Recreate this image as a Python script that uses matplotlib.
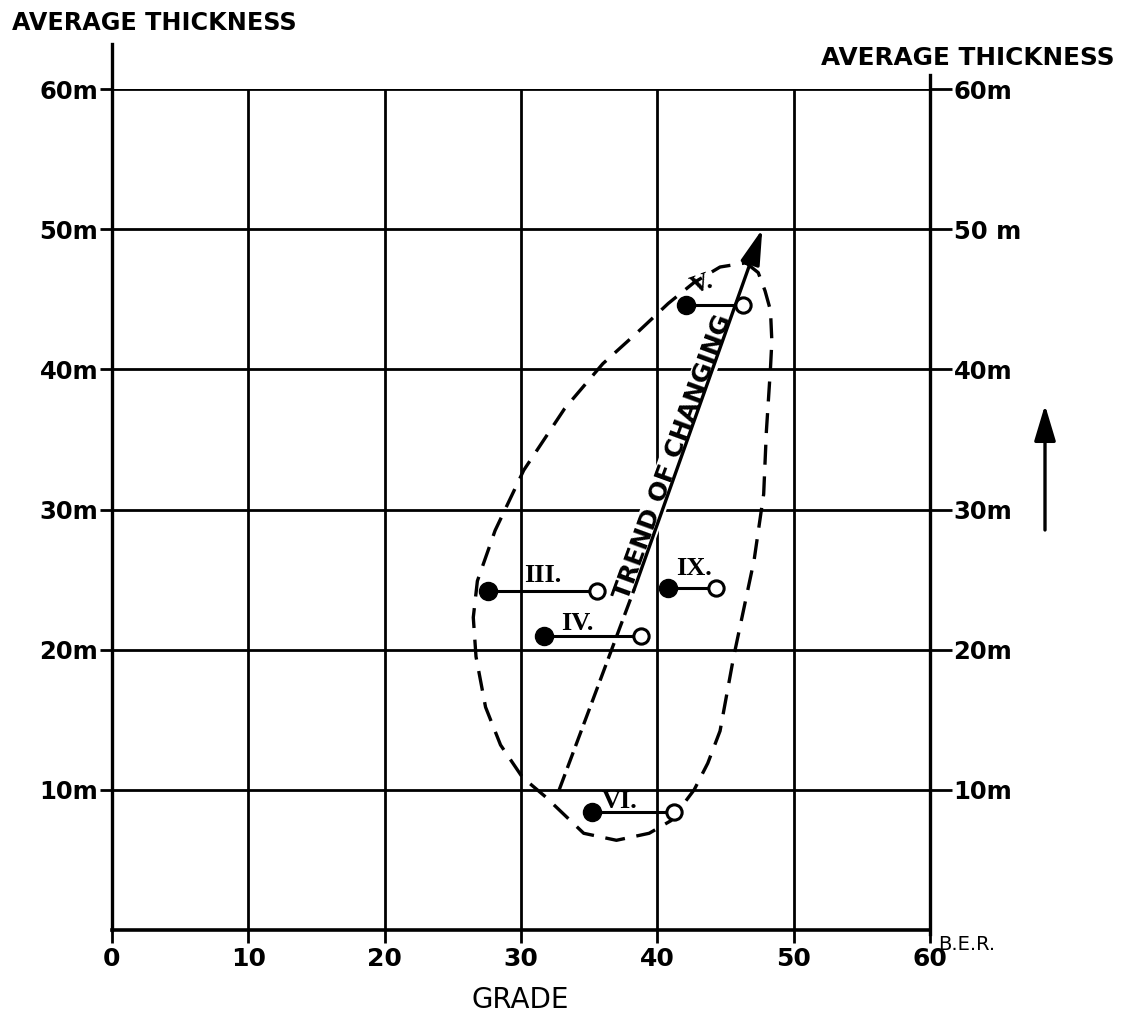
import matplotlib.pyplot as plt
from matplotlib.patches import FancyArrowPatch
import numpy as np

plt.rcParams['font.family'] = ['DejaVu Sans']

# grade (B.E.R.) of each seam: filled end, open end, and average thickness (m)
seams = ['V.', 'III.', 'IV.', 'IX.', 'VI.']
grade_filled = [42.1, 27.6, 31.7, 40.8, 35.2]
grade_open = [46.3, 35.6, 38.8, 44.3, 41.2]
thickness = [44.6, 24.2, 21.0, 24.4, 8.4]

# dashed envelope around the seams
env_grade = [46.5, 47.4, 47.9, 48.3, 48.4, 48.3, 48.0, 47.8, 47.1, 45.6, 44.6, 43.7,
             42.7, 41.0, 39.4, 37.0, 34.6, 31.8, 30.1, 28.5, 27.4, 26.7, 26.5, 26.8,
             28.1, 30.2, 33.2, 36.0, 38.5, 40.8, 42.7, 44.6, 46.5]
env_thick = [47.6, 46.9, 45.6, 44.2, 42.0, 40.1, 35.6, 31.1, 26.4, 19.5, 14.2, 11.9,
             10.0, 7.8, 6.9, 6.4, 6.9, 9.5, 10.9, 13.2, 15.9, 19.5, 22.3, 24.9,
             28.5, 32.8, 37.2, 40.4, 42.6, 44.7, 46.2, 47.3, 47.6]

# trend arrow: start, end of dashed part, tip
trend_grade = [32.8, 38.3, 47.7]
trend_thick = [10.0, 24.3, 50.0]

xticks = [0, 10, 20, 30, 40, 50, 60]
yticks = [10, 20, 30, 40, 50, 60]
ylabels_left = ['10m', '20m', '30m', '40m', '50m', '60m']
ylabels_right = ['10m', '20m', '30m', '40m', '50 m', '60m']

fig = plt.figure(figsize=(11.27, 10.21), dpi=100)
ax = fig.add_axes([112 / 1127, 1 - 930 / 1021, (930 - 112) / 1127, (930 - 89) / 1021])
ax.set_xlim(0, 60)
ax.set_ylim(0, 60)
for s in ax.spines.values():
    s.set_visible(False)

lw_grid = 2.0
for x in xticks[1:-1]:
    ax.plot([x, x], [0, 60], color='k', lw=lw_grid, zorder=1)
for y in yticks:
    ax.plot([0, 60], [y, y], color='k', lw=lw_grid, zorder=1)
# frame lines, left one runs up past the top
ax.plot([0, 0], [0, 63.2], color='k', lw=2.4, clip_on=False, zorder=1)
ax.plot([60, 60], [-0.3, 61.0], color='k', lw=2.4, clip_on=False, zorder=1)
ax.plot([0, 60], [0, 0], color='k', lw=2.6, clip_on=False, zorder=1)

ax.set_xticks(xticks)
ax.set_xticklabels([str(v) for v in xticks], fontsize=18, fontweight='bold')
ax.set_yticks(yticks)
ax.set_yticklabels(ylabels_left, fontsize=17.5, fontweight='bold')
ax.tick_params(axis='x', direction='out', length=9, width=2, pad=3)
ax.tick_params(axis='y', direction='out', length=9, width=2, pad=1)

ax2 = ax.twinx()
ax2.set_ylim(0, 60)
for s in ax2.spines.values():
    s.set_visible(False)
ax2.set_yticks(yticks)
ax2.set_yticklabels(ylabels_right, fontsize=17.5, fontweight='bold')
ax2.tick_params(axis='y', direction='out', length=16, width=2, pad=1)

# envelope
ax.plot(env_grade, env_thick, color='k', lw=2.4, dashes=(6, 3.5), zorder=3)

# seams
for i, name in enumerate(seams):
    ax.plot([grade_filled[i], grade_open[i]], [thickness[i], thickness[i]],
            color='k', lw=2.2, zorder=4)
    ax.plot(grade_filled[i], thickness[i], 'o', color='k', ms=13, zorder=5)
    ax.plot(grade_open[i], thickness[i], 'o', mfc='white', mec='k', mew=2.2,
            ms=11, zorder=5)

label_off = {'V.': (1.2, 1.5, 20), 'III.': (4.0, 1.1, 0), 'IV.': (2.4, 0.9, 0),
             'IX.': (1.9, 1.4, 0), 'VI.': (2.0, 0.8, 0)}
for i, name in enumerate(seams):
    dx, dy, rot = label_off[name]
    ax.text(grade_filled[i] + dx, thickness[i] + dy, name, ha='center', va='center',
            fontsize=19, fontweight='bold', family='Liberation Serif',
            rotation=rot, zorder=6)

# trend
ax.plot(trend_grade[:2], trend_thick[:2], color='k', lw=2.4, dashes=(5, 2), zorder=4)
ax.annotate('', xy=(trend_grade[2], trend_thick[2]),
            xytext=(trend_grade[1], trend_thick[1]),
            arrowprops=dict(arrowstyle='-|>,head_length=0.9,head_width=0.25',
                            lw=2.4, color='k', mutation_scale=24,
                            shrinkA=0, shrinkB=0), zorder=4)
ax.text(41.6, 33.6, 'TREND OF CHANGING', rotation=70, rotation_mode='anchor',
        ha='center', va='baseline', fontsize=18, fontweight='bold', zorder=3,
        bbox=dict(facecolor='white', edgecolor='none', pad=0.3))

# outer texts
fig.text(12 / 1127, 1 - 23 / 1021, 'AVERAGE THICKNESS', fontsize=17.2,
         fontweight='bold', va='center', ha='left')
fig.text(1115 / 1127, 1 - 58 / 1021, 'AVERAGE THICKNESS', fontsize=17.8,
         fontweight='bold', va='center', ha='right')
fig.text(520 / 1127, 1 - 1000 / 1021, 'GRADE', fontsize=20, va='center', ha='center')
fig.text(938 / 1127, 1 - 944 / 1021, 'B.E.R.', fontsize=14, va='center', ha='left')

# upward arrow at right
fig.add_artist(FancyArrowPatch(
    (1045 / 1127, 1 - 530 / 1021), (1045 / 1127, 1 - 405 / 1021),
    transform=fig.transFigure, arrowstyle='-|>,head_length=1.0,head_width=0.3',
    mutation_scale=22, lw=2.4, color='k', shrinkA=0, shrinkB=0))

fig.savefig('out.png', dpi=100)
